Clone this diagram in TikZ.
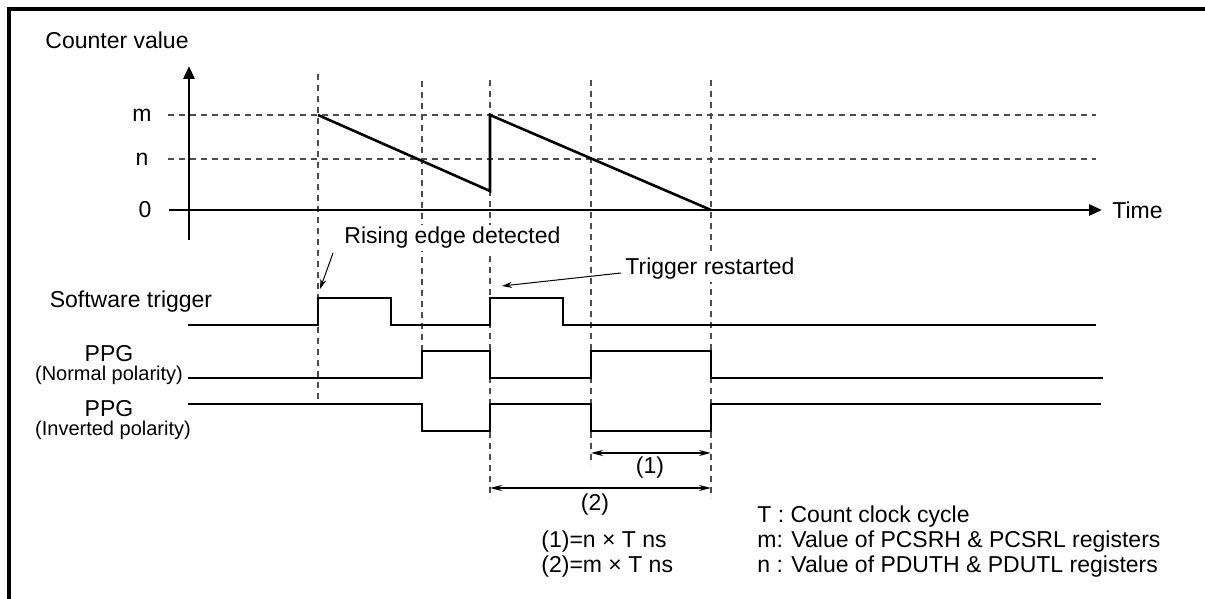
\documentclass[tikz,border=0pt]{standalone}
\usepackage{fontspec}
\setmainfont{Liberation Sans}
\usetikzlibrary{positioning,arrows.meta,calc}

\begin{document}
\begin{tikzpicture}[x=0.5pt,y=-0.5pt,>=Stealth,
  font=\fontsize{11.5}{13}\selectfont,
  lbl/.style={inner sep=0pt},
  sub/.style={inner sep=0pt,font=\fontsize{10}{11}\selectfont},
  note/.style={fill=white,inner sep=1pt},
  sig/.style={line width=1.3pt},
  axis/.style={line width=1.4pt,-{Triangle[length=6.5pt,width=5.5pt]}},
  guide/.style={line width=0.55pt,black!70,dash pattern=on 3.2pt off 2.3pt},
  pointer/.style={line width=0.5pt,-{Stealth[length=5pt,width=3pt]}},
  dim/.style={line width=1pt,{Stealth[length=6pt,width=3pt]}-{Stealth[length=6pt,width=3pt]}}]
  \useasboundingbox (0,0) rectangle (1205,599);
  % frame
  \draw[line width=1.6pt] (9,599) -- (9,9) -- (1205,9);
  % axes
  \node[lbl] (cv) at (117,40) {Counter value};
  \coordinate (ybot) at (189,240);
  \coordinate (ytop) at (189,66);
  \coordinate (x0) at (169,210);
  \coordinate (xend) at (1102,210);
  \node[lbl] (lm) at (142,115) {m};
  \node[lbl] (ln) at (142,159) {n};
  \node[lbl] (lz) at (145,210) {0};
  \node[lbl,anchor=west] (time) at (1112,210) {Time};
  % levels m and n
  \draw[guide] (168,115) -- (1096,115);
  \draw[guide] (168,159) -- (1096,159);
  % time marks
  \draw[guide] (318,74) -- (318,403);
  \draw[guide] (422,81) -- (422,351);
  \draw[guide] (490,80) -- (490,498);
  \draw[guide] (591,80) -- (591,465);
  \draw[guide] (711,80) -- (711,498);
  \draw[axis] (ybot) -- (ytop);
  \draw[axis] (x0) -- (xend);
  % counter
  \draw[sig] (318,115) -- (490,191) -- (490,115) -- (711,210);
  % waveforms
  \node[lbl] (sw) at (131,302) {Software trigger};
  \draw[sig] (188,325) -| (318,298) -| (391,325) -| (490,298) -| (563,325) -- (1096,325);
  \node[lbl] (ppgA) at (109,354) {PPG};
  \node[sub,below=1.5pt of ppgA] (ppgAsub) {(Normal polarity)};
  \draw[sig] (188,378) -| (422,351) -| (490,378) -| (591,351) -| (711,378) -- (1103,378);
  \node[lbl] (ppgB) at (109,409) {PPG};
  \node[sub,below=1.5pt of ppgB,xshift=2pt] (ppgBsub) {(Inverted polarity)};
  \draw[sig] (188,404) -| (422,431) -| (490,404) -| (591,431) -| (711,404) -- (1101,404);
  % notes
  \node[note,anchor=west] (rise) at (342,238) {Rising edge detected};
  \coordinate (riseTip) at (320,289);
  \draw[pointer] ($(rise.south west)+(-9,2)$) -- (riseTip);
  \node[note,anchor=west] (restart) at (623,269) {Trigger restarted};
  \coordinate (restartTip) at (502,286);
  \draw[pointer] ($(restart.west)+(-2,4)$) -- (restartTip);
  % widths
  \coordinate (d1a) at (591,453); \coordinate (d1b) at (711,453);
  \coordinate (d2a) at (490,488); \coordinate (d2b) at (711,488);
  \draw[dim] (d1a) -- (d1b);
  \draw[dim] (d2a) -- (d2b);
  \node[lbl] (w1) at (650,468) {(1)};
  \node[lbl] (w2) at (595,505) {(2)};
  \node[lbl,anchor=west] (f1) at (541,542) {(1)=n × T ns};
  \node[lbl,anchor=west] (f2) at (541,567) {(2)=m × T ns};
  % legend
  \node[lbl,anchor=west] (kT) at (757,517) {T : Count clock cycle};
  \node[lbl,anchor=west] (km) at (757,542) {m: Value of PCSRH \& PCSRL registers};
  \node[lbl,anchor=west] (kn) at (757,567) {n : Value of PDUTH \& PDUTL registers};
\end{tikzpicture}
\end{document}
